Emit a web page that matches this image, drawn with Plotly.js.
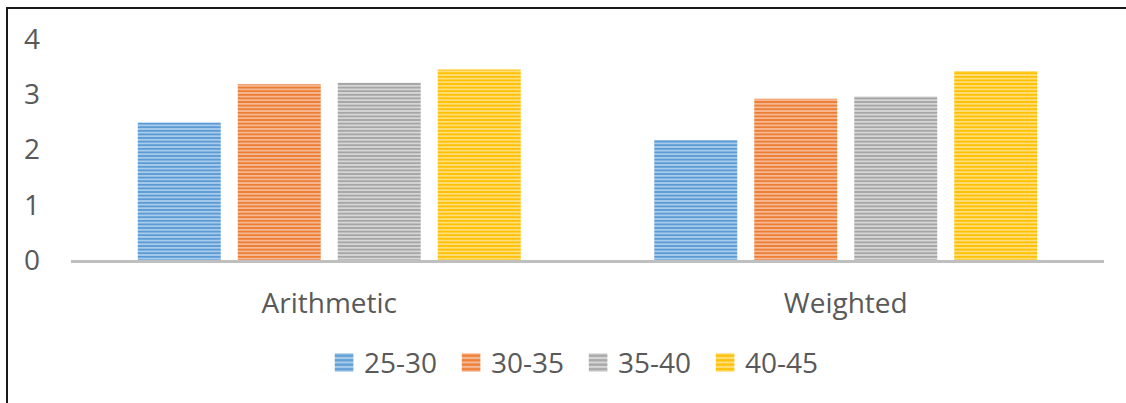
<!DOCTYPE html>
<html>
<head>
<meta charset="utf-8">
<script src="https://cdn.plot.ly/plotly-3.0.1.min.js"></script>
<style>
  html, body { margin: 0; padding: 0; background: #fff; }
  #wrap { position: relative; width: 1126px; height: 403px; overflow: hidden; }
  #chart { width: 1126px; height: 403px; }
  #frame { position: absolute; left: 6px; top: 7px; width: 1200px; height: 500px;
           border-left: 2px solid #1a1a1a; border-top: 2px solid #1a1a1a; pointer-events: none; }
</style>
</head>
<body>
<div id="wrap">
  <div id="chart"></div>
  <div id="frame"></div>
</div>
<script>
const categories = ['Arithmetic', 'Weighted'];
const seriesNames = ['25-30', '30-35', '35-40', '40-45'];
const values_25_30 = [2.49, 2.17];
const values_30_35 = [3.18, 2.92];
const values_35_40 = [3.21, 2.96];
const values_40_45 = [3.45, 3.42];
const yTicks = [0, 1, 2, 3, 4];

const allValues = [values_25_30, values_30_35, values_35_40, values_40_45];
const fg = ['#5B9BD5', '#ED7D31', '#A5A5A5', '#FFC000'];
const bg = ['#A9CBEA', '#F5B896', '#D6D6D6', '#FFDD7A'];

const traces = seriesNames.map((name, i) => ({
  type: 'bar',
  name: name,
  x: categories,
  y: allValues[i],
  marker: {
    color: bg[i],
    line: { width: 0 },
    pattern: { shape: '-', fgcolor: fg[i], bgcolor: bg[i], size: 3.6, solidity: 0.5, fillmode: 'replace' }
  },
  hoverinfo: 'x+y+name'
}));

const font = { family: '"Open Sans", sans-serif', size: 28, color: '#595959' };

const layout = {
  width: 1126, height: 403,
  margin: { l: 71, r: 22, t: 39, b: 143 },
  paper_bgcolor: '#ffffff', plot_bgcolor: '#ffffff',
  font: font,
  barmode: 'group',
  bargap: 0.2256,
  bargroupgap: 0.17,
  showlegend: true,
  legend: {
    orientation: 'h', x: 0.245, xanchor: 'left', y: -0.465, yanchor: 'middle',
    font: font, entrywidth: 82, entrywidthmode: 'pixels', traceorder: 'normal'
  },
  xaxis: {
    type: 'category', showgrid: false, zeroline: false,
    showline: true, linecolor: '#BFBFBF', linewidth: 3,
    ticks: '', ticklabelstandoff: 16, tickfont: font
  },
  yaxis: {
    range: [0, 4], tickvals: yTicks, ticktext: yTicks.map(String),
    showgrid: false, zeroline: false, showline: false,
    ticks: '', ticklabelstandoff: 30, tickfont: font
  }
};

function scaleLegend() {
  document.querySelectorAll('.legendpoints path').forEach(p => {
    if (!p.dataset.scaled) {
      const t = p.getAttribute('transform') || '';
      p.setAttribute('transform', t + ' scale(1.55)');
      p.dataset.scaled = '1';
    }
  });
}

Plotly.newPlot('chart', traces, layout, { displayModeBar: false, staticPlot: true }).then(gd => {
  scaleLegend();
  gd.on('plotly_afterplot', scaleLegend);
});
</script>
</body>
</html>
